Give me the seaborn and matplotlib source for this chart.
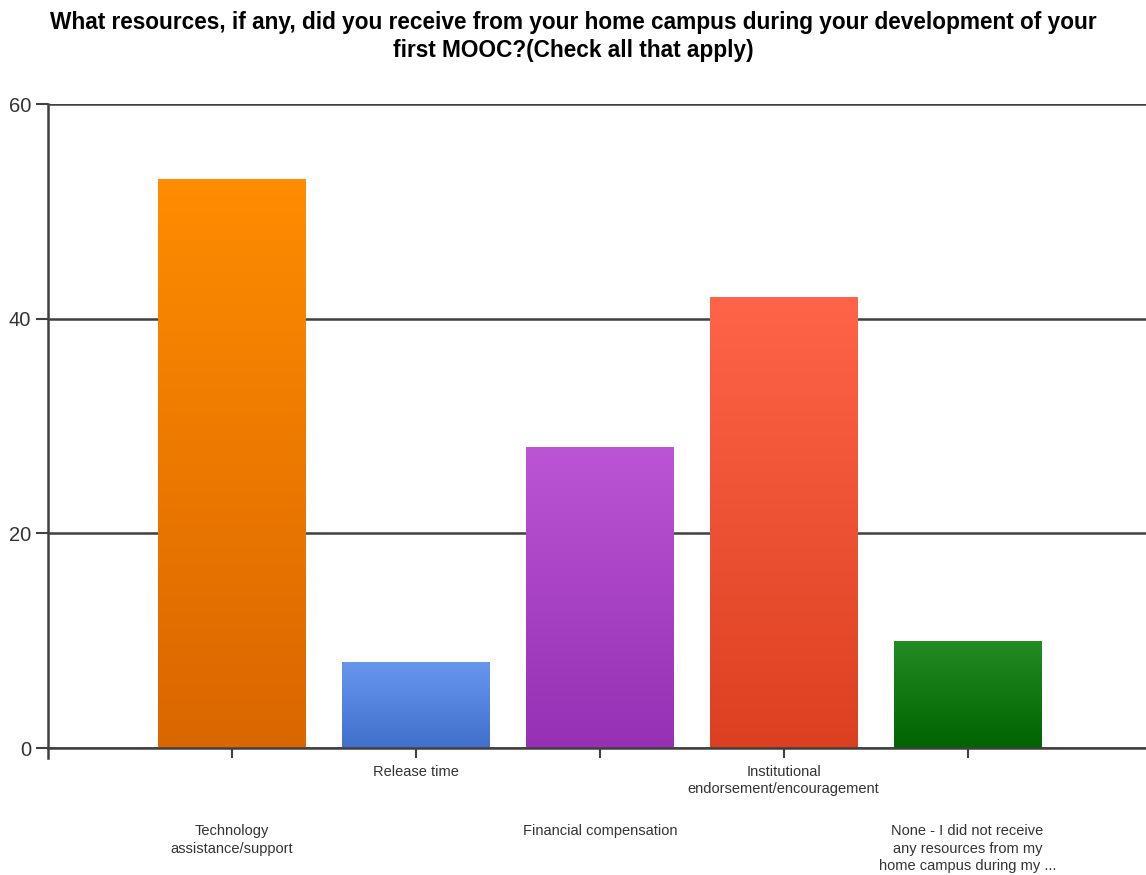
import numpy as np
import pandas as pd
import matplotlib
matplotlib.use("Agg")
import matplotlib.pyplot as plt
import seaborn as sns
from matplotlib.colors import LinearSegmentedColormap

categories = [
    "Technology\nassistance/support",
    "Release time",
    "Financial compensation",
    "Institutional\nendorsement/encouragement",
    "None - I did not receive\nany resources from my\nhome campus during my ...",
]
values = [53, 8, 28, 42, 10]
top_colors = ["#FF8C00", "#6696EE", "#BB55D5", "#FF6448", "#238C23"]
bottom_colors = ["#DA6600", "#4170CC", "#9630B4", "#DC4020", "#006400"]
yticks = [0, 20, 40, 60]
title = ("What resources, if any, did you receive from your home campus during your development of your\n"
         "first MOOC?(Check all that apply)")

sns.set_theme(style="white")
plt.rcParams['font.family'] = ['Liberation Sans', 'DejaVu Sans']

df = pd.DataFrame({"cat": categories, "val": values})

fig = plt.figure(figsize=(11.46, 8.75), dpi=100)
ax = fig.add_axes([48/1146, 1-748/875, 1-48/1146, (748-104)/875])

sns.barplot(data=df, x="cat", y="val", hue="cat", palette=top_colors,
            width=0.8, legend=False, ax=ax, saturation=1, linewidth=0)

# gradient fill per bar
for patch, c_top, c_bot in zip(ax.patches, top_colors, bottom_colors):
    x0, y0 = patch.get_x(), patch.get_y()
    w, h = patch.get_width(), patch.get_height()
    cmap = LinearSegmentedColormap.from_list("g", [c_bot, c_top])
    grad = np.linspace(0, 1, 256).reshape(-1, 1)
    im = ax.imshow(grad, cmap=cmap, origin="lower", aspect="auto",
                   extent=[x0, x0 + w, y0, y0 + h], zorder=patch.get_zorder() + 0.1)
    im.set_clip_path(patch)

ax.set_xlim(-1.0, 4.97)
ax.set_ylim(0, 60)
ax.set_yticks(yticks)
ax.set_yticklabels([str(v) for v in yticks], fontsize=14.5, color="#333333")

ax.yaxis.grid(True, color="#404040", linewidth=1.8)
ax.set_axisbelow(True)

for s in ["top", "right"]:
    ax.spines[s].set_visible(False)
ax.spines["left"].set_color("#404040")
ax.spines["left"].set_linewidth(1.8)
ax.spines["left"].set_bounds(-0.9, 60)
ax.spines["bottom"].set_color("#404040")
ax.spines["bottom"].set_linewidth(1.8)

ax.tick_params(axis="y", left=True, length=9, width=1.5, color="#404040", pad=3)
ax.tick_params(axis="x", bottom=True, length=7, width=1.5, color="#404040")

ax.set_xticks(range(len(categories)))
ax.set_xticklabels([])
ax.set_xlabel("")
ax.set_ylabel("")

# staggered category labels
for i, lab in enumerate(categories):
    y_off = -0.026 if i % 2 == 1 else -0.118
    ax.text(i, y_off, lab, transform=ax.get_xaxis_transform(), ha="center", va="top",
            fontsize=10.5, color="#333333", linespacing=1.34)

fig.suptitle(title, fontsize=16.3, fontweight="bold", y=0.988, va="top",
             linespacing=1.3, color="#000000")

fig.savefig("out.png", dpi=100)
